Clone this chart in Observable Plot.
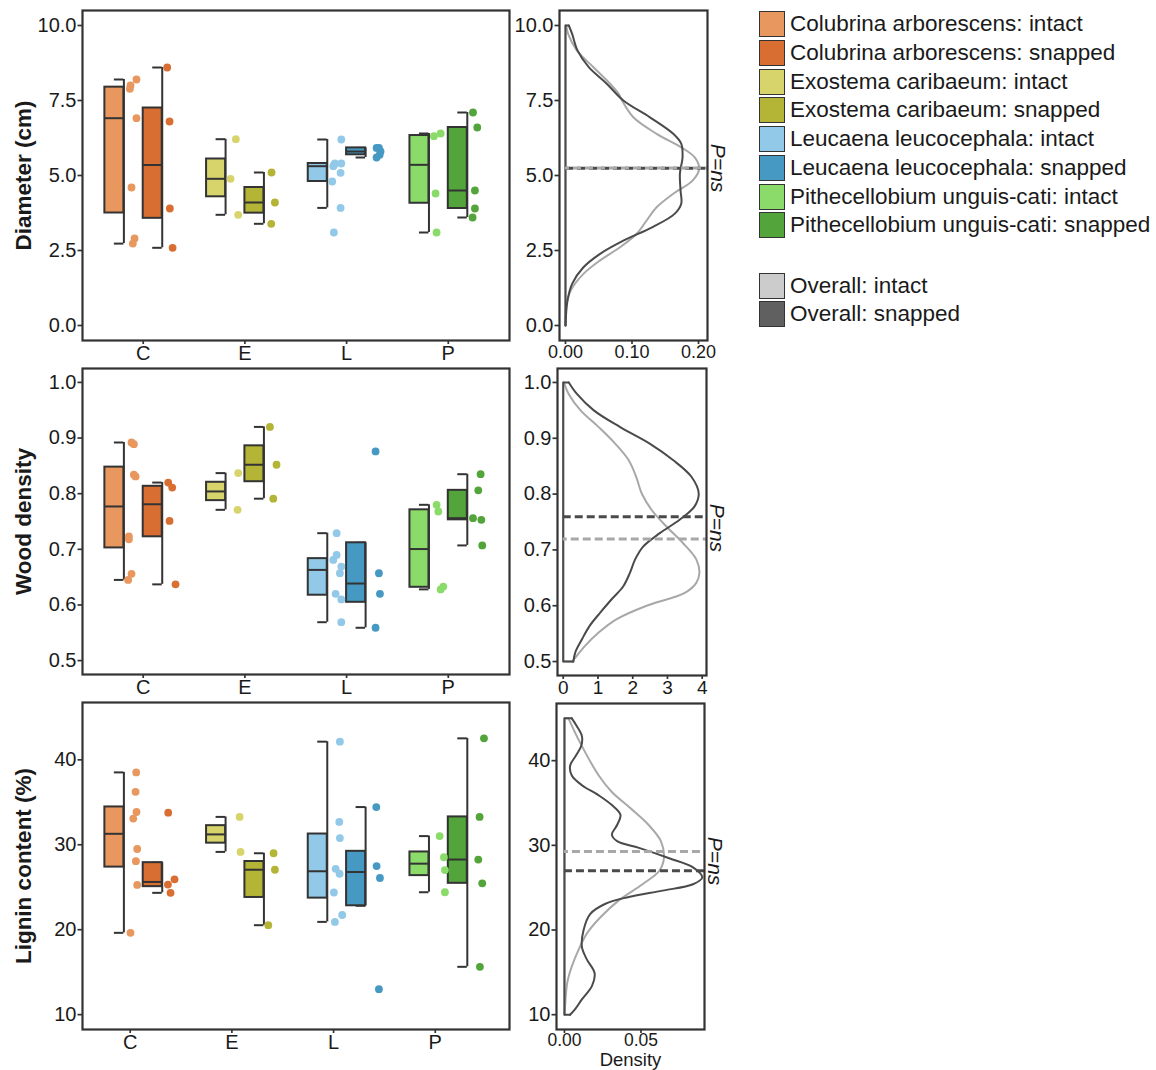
<!DOCTYPE html>
<html><head><meta charset="utf-8">
<script src="https://cdn.jsdelivr.net/npm/d3@7"></script>
<script src="https://cdn.jsdelivr.net/npm/@observablehq/plot@0.6"></script>
<style>
body{margin:0;background:#fff;font-family:"Liberation Sans",Arial,Helvetica,sans-serif;}
#root{position:relative;width:1156px;height:1070px;}
.lg-item{position:absolute;left:759px;height:26px;display:flex;align-items:center;}
.lg-sw{width:26px;height:26px;box-sizing:border-box;border:1.4px solid #333;}
.lg-tx{position:absolute;left:31px;font-size:22.5px;color:#1a1a1a;white-space:nowrap;line-height:26px;top:0;}
</style></head><body><div id="root"></div>
<script>
// ---------- categories / labels ----------
const speciesCodes = ["C", "E", "L", "P"];
const speciesNames = ["Colubrina arborescens", "Exostema caribaeum", "Leucaena leucocephala", "Pithecellobium unguis-cati"];
const conditions = ["intact", "snapped"];
const groupColors = ["#E8975F", "#D96E32", "#D8D46C", "#B4B436", "#92C9E8", "#4699C3", "#8ADB6A", "#53A43A"];
const overallColors = ["#CCCCCC", "#606060"];
const curveColors = ["#A8A8A8", "#4A4A4A"];

// ---------- raw values (group order: C-intact, C-snapped, E-intact, E-snapped, L-intact, L-snapped, P-intact, P-snapped) ----------
const diameter = [
  [8.2, 8.0, 7.89, 6.91, 4.6, 2.9, 2.73],
  [8.6, 6.8, 3.9, 2.59],
  [6.21, 4.89, 3.69],
  [5.1, 4.1, 3.39],
  [6.2, 5.4, 5.35, 5.31, 5.4, 5.09, 4.8, 3.92, 3.1],
  [5.92, 5.92, 5.8, 5.69, 5.6],
  [6.4, 6.31, 4.4, 3.1],
  [7.1, 6.6, 4.5, 3.9, 3.6]
];
const woodDensity = [
  [0.892, 0.889, 0.834, 0.831, 0.723, 0.718, 0.656, 0.645],
  [0.82, 0.811, 0.751, 0.637],
  [0.837, 0.771],
  [0.92, 0.852, 0.791],
  [0.729, 0.69, 0.681, 0.669, 0.657, 0.62, 0.61, 0.569],
  [0.876, 0.657, 0.62, 0.559],
  [0.78, 0.768, 0.633, 0.628],
  [0.835, 0.806, 0.756, 0.753, 0.707]
];
const lignin = [
  [38.52, 36.23, 33.86, 33.08, 29.5, 28.07, 25.27, 19.63],
  [33.78, 25.93, 25.31, 24.34],
  [33.28, 29.16],
  [29.0, 27.06, 20.53],
  [42.14, 32.69, 30.79, 27.17, 26.59, 24.38, 21.73, 20.92],
  [34.44, 27.49, 26.09, 13.0],
  [31.02, 28.53, 27.02, 24.41],
  [42.53, 33.28, 28.26, 25.46, 15.63]
];

// horizontal jitter of each point (category units)
const diameterJitter = [
  [-0.066, -0.125, -0.131, -0.066, -0.115, -0.085, -0.102],
  [0.236, 0.259, 0.262, 0.289],
  [-0.089, -0.141, -0.066],
  [0.262, 0.295, 0.259],
  [-0.052, -0.115, -0.123, -0.131, -0.052, -0.059, -0.141, -0.059, -0.125],
  [0.295, 0.318, 0.334, 0.325, 0.295],
  [-0.075, -0.141, -0.125, -0.115],
  [0.243, 0.285, 0.262, 0.262, 0.239]
];
const woodDensityJitter = [
  [-0.115, -0.092, -0.092, -0.075, -0.141, -0.141, -0.115, -0.148],
  [0.246, 0.285, 0.259, 0.318],
  [-0.066, -0.072],
  [0.246, 0.311, 0.279],
  [-0.098, -0.098, -0.131, -0.052, -0.066, -0.108, -0.052, -0.052],
  [0.285, 0.318, 0.328, 0.285],
  [-0.115, -0.098, -0.049, -0.075],
  [0.318, 0.295, 0.243, 0.325, 0.334]
];
const ligninJitter = [
  [-0.069, -0.075, -0.066, -0.098, -0.059, -0.072, -0.059, -0.125],
  [0.246, 0.308, 0.243, 0.269],
  [-0.052, -0.043],
  [0.282, 0.295, 0.230],
  [-0.066, -0.072, -0.066, -0.108, -0.069, -0.125, -0.043, -0.115],
  [0.292, 0.295, 0.328, 0.318],
  [-0.085, -0.043, -0.033, -0.033],
  [0.351, 0.308, 0.295, 0.334, 0.311]
];

// ---------- overall density curves ----------
const diameterDensIntactY = [10, 9.72, 9.17, 8.61, 8.06, 7.72, 7.5, 6.94, 6.39, 5.94, 5.61, 5.22, 4.83, 4.39, 3.94, 3.5, 3.06, 2.61, 2.17, 1.72, 1.17, 0.61, 0];
const diameterDensIntact  = [0.001, 0.004, 0.017, 0.042, 0.067, 0.08, 0.085, 0.102, 0.137, 0.174, 0.194, 0.201, 0.191, 0.162, 0.137, 0.122, 0.107, 0.082, 0.052, 0.027, 0.008, 0.001, 0];
const diameterDensSnappedY = [10, 9.72, 9.17, 8.61, 8.06, 7.5, 6.94, 6.39, 6.06, 5.61, 5.06, 4.5, 4.06, 3.72, 3.28, 2.83, 2.39, 1.94, 1.39, 0.83, 0];
const diameterDensSnapped  = [0.005, 0.010, 0.018, 0.035, 0.062, 0.087, 0.127, 0.162, 0.174, 0.176, 0.172, 0.173, 0.174, 0.164, 0.131, 0.087, 0.052, 0.027, 0.010, 0.003, 0];

const woodDensIntactY = [1.0, 0.979, 0.950, 0.920, 0.890, 0.861, 0.831, 0.801, 0.772, 0.742, 0.712, 0.683, 0.659, 0.641, 0.623, 0.600, 0.576, 0.552, 0.529, 0.511, 0.500];
const woodDensIntact  = [0.02, 0.16, 0.5, 1.02, 1.5, 1.88, 2.1, 2.26, 2.54, 2.97, 3.45, 3.83, 3.92, 3.83, 3.5, 2.4, 1.54, 1.02, 0.64, 0.4, 0.26];
const woodDensSnappedY = [1.0, 0.979, 0.950, 0.920, 0.890, 0.861, 0.831, 0.801, 0.778, 0.754, 0.730, 0.706, 0.683, 0.659, 0.635, 0.612, 0.588, 0.564, 0.540, 0.517, 0.500];
const woodDensSnapped  = [0.16, 0.4, 0.88, 1.64, 2.5, 3.16, 3.69, 3.9, 3.78, 3.35, 2.78, 2.3, 2.07, 1.92, 1.73, 1.4, 1.07, 0.76, 0.54, 0.35, 0.29];

const ligninDensIntactY = [45.0, 42.1, 38.25, 36.3, 34.4, 32.4, 30.5, 28.5, 27.0, 25.4, 23.5, 21.5, 19.6, 17.65, 15.7, 13.75, 11.0, 10.0];
const ligninDensIntact  = [0.0026, 0.0103, 0.0224, 0.031, 0.043, 0.055, 0.063, 0.065, 0.062, 0.051, 0.0355, 0.0235, 0.0147, 0.0092, 0.0048, 0.0018, 0.0004, 0];
const ligninDensSnappedY = [45.0, 44.1, 42.9, 41.75, 40.6, 39.4, 38.25, 37.1, 35.9, 34.75, 33.6, 32.4, 31.25, 30.5, 29.7, 28.5, 27.4, 26.2, 25.4, 24.65, 23.9, 23.1, 21.9, 20.0, 18.0, 16.5, 14.9, 13.4, 11.8, 10.65, 10.0];
const ligninDensSnapped  = [0.0048, 0.008, 0.0114, 0.011, 0.0075, 0.0037, 0.0048, 0.0114, 0.0224, 0.031, 0.0366, 0.0344, 0.031, 0.0344, 0.0487, 0.068, 0.084, 0.090, 0.084, 0.064, 0.042, 0.0268, 0.0169, 0.0125, 0.0114, 0.0147, 0.0197, 0.018, 0.0114, 0.007, 0.0037];

// ---------- axis ticks ----------
const diameterTicks = [0, 2.5, 5, 7.5, 10];
const woodTicks = [0.5, 0.6, 0.7, 0.8, 0.9, 1.0];
const ligninTicks = [10, 20, 30, 40];
const diameterDensTicks = [0, 0.1, 0.2];
const woodDensTicks = [0, 1, 2, 3, 4];
const ligninDensTicks = [0, 0.05];

// ---------- helpers ----------
const root = document.getElementById("root");
const FONT = "'Liberation Sans', Arial, Helvetica, sans-serif";
const INK = "#1a1a1a", FRAME = "#333333";

function boxStats(vals) {
  const s = vals.slice().sort(d3.ascending);
  const q1 = d3.quantile(s, 0.25), med = d3.quantile(s, 0.5), q3 = d3.quantile(s, 0.75);
  const iqr = q3 - q1;
  const lo = d3.min(s.filter(v => v >= q1 - 1.5 * iqr));
  const hi = d3.max(s.filter(v => v <= q3 + 1.5 * iqr));
  return {q1, med, q3, lo: Math.min(lo, q1), hi: Math.max(hi, q3)};
}

function place(svg, left, top) {
  svg.style.position = "absolute";
  svg.style.left = left + "px";
  svg.style.top = top + "px";
  root.appendChild(svg);
}

const baseStyle = {background: "transparent", overflow: "visible", fontFamily: FONT, fontSize: "20px", color: INK};

function leftPanel(c) {
  const boxes = [], pts = [];
  c.vals.forEach((arr, g) => {
    const si = Math.floor(g / 2), cond = g % 2;
    const st = boxStats(arr);
    const x1 = si + (cond ? 0.0 : -0.377), x2 = si + (cond ? 0.187 : -0.190);
    boxes.push({...st, x1, x2, xc: (x1 + x2) / 2, color: groupColors[g]});
    arr.forEach((v, i) => pts.push({x: si + c.jit[g][i], y: v, color: groupColors[g]}));
  });
  const ticks = speciesCodes.map((d, i) => i + c.tickShift);
  const svg = Plot.plot({
    width: 520, height: c.svgBottom - c.svgTop,
    marginLeft: 82, marginRight: 11, marginTop: c.top - c.svgTop, marginBottom: c.svgBottom - c.bottom,
    x: {domain: [-0.597, 3.602]},
    y: {domain: c.yDomain},
    color: {type: "identity"},
    style: baseStyle,
    marks: [
      Plot.ruleX(boxes, {x: "x2", y1: "lo", y2: "hi", stroke: FRAME, strokeWidth: 2}),
      Plot.ruleY(boxes, {y: "lo", x1: "xc", x2: "x2", stroke: FRAME, strokeWidth: 2}),
      Plot.ruleY(boxes, {y: "hi", x1: "xc", x2: "x2", stroke: FRAME, strokeWidth: 2}),
      Plot.rect(boxes, {x1: "x1", x2: "x2", y1: "q1", y2: "q3", fill: "color", stroke: FRAME, strokeWidth: 2}),
      Plot.ruleY(boxes, {y: "med", x1: "x1", x2: "x2", stroke: FRAME, strokeWidth: 2}),
      Plot.dot(pts, {x: "x", y: "y", r: 3.9, fill: "color", stroke: "none"}),
      Plot.frame({stroke: FRAME, strokeWidth: 2.2}),
      Plot.axisY(c.yTicks, {tickFormat: c.yFmt, tickSize: 4.5, tickPadding: 1.5, stroke: FRAME, strokeWidth: 1.7, fill: INK, fontSize: 20, label: null}),
      Plot.axisX(ticks, {tickFormat: d => speciesCodes[Math.round(d - c.tickShift)], tickSize: 4, tickPadding: 1, stroke: FRAME, strokeWidth: 1.7, fill: INK, fontSize: 20, label: null}),
      Plot.text([c.title], {frameAnchor: "left", textAnchor: "middle", lineAnchor: "middle", rotate: -90, dx: -58.5, fontSize: 22.5, fontWeight: "bold", fill: INK})
    ]
  });
  place(svg, 0, c.svgTop);
}

function densPanel(c) {
  const mk = (ys, ds) => ys.map((v, i) => ({v, d: ds[i]}));
  const closing = (pts, yr) => {
    const top = pts.find(p => p.v === yr[1]), bot = pts.find(p => p.v === yr[0]);
    return [{d: top.d, v: yr[1]}, {d: 0, v: yr[1]}, {d: 0, v: yr[0]}, {d: bot.d, v: yr[0]}];
  };
  const light = mk(c.iy, c.id), dark = mk(c.sy, c.sd);
  const meanIntact = d3.mean(c.vals.filter((a, g) => g % 2 === 0).flat());
  const meanSnapped = d3.mean(c.vals.filter((a, g) => g % 2 === 1).flat());
  const svg = Plot.plot({
    width: 240, height: c.svgBottom - c.svgTop,
    marginLeft: c.fl - 500, marginRight: 740 - c.fr, marginTop: c.top - c.svgTop, marginBottom: c.svgBottom - c.bottom,
    x: {domain: c.xDomain},
    y: {domain: c.yDomain},
    style: baseStyle,
    marks: [
      Plot.line(light, {x: "d", y: "v", stroke: curveColors[0], strokeWidth: 2, curve: "catmull-rom"}),
      Plot.line(closing(light, c.yRange), {x: "d", y: "v", stroke: curveColors[0], strokeWidth: 2}),
      Plot.line(dark, {x: "d", y: "v", stroke: curveColors[1], strokeWidth: 2, curve: "catmull-rom"}),
      Plot.line(closing(dark, c.yRange), {x: "d", y: "v", stroke: curveColors[1], strokeWidth: 2}),
      Plot.ruleY([meanSnapped], {y: d => d, x1: 0, x2: c.xDomain[1], stroke: curveColors[1], strokeWidth: 3, strokeDasharray: "8,4"}),
      Plot.ruleY([meanIntact], {y: d => d, x1: 0, x2: c.xDomain[1], stroke: curveColors[0], strokeWidth: 3, strokeDasharray: "8,4", strokeDashoffset: 4}),
      Plot.frame({stroke: FRAME, strokeWidth: 2.2}),
      Plot.axisY(c.yTicks, {tickFormat: c.yFmt, tickSize: 4.5, tickPadding: 1.5, stroke: FRAME, strokeWidth: 1.7, fill: INK, fontSize: 20, label: null}),
      Plot.axisX(c.xTicks, {tickFormat: c.xFmt, tickSize: 4, tickPadding: c.xPad, stroke: FRAME, strokeWidth: 1.7, fill: INK, fontSize: c.xFont, label: null}),
      Plot.text([(meanIntact + meanSnapped) / 2], {y: d => d, frameAnchor: "right", textAnchor: "middle", lineAnchor: "middle", text: () => "P=ns", rotate: 90, dx: 10.5, fontSize: 21, fontStyle: "italic", fill: INK}),
      ...(c.xLabel ? [Plot.text([c.xLabel], {frameAnchor: "bottom", lineAnchor: "middle", dy: 31, fontSize: 18.5, fill: INK})] : [])
    ]
  });
  place(svg, 500, c.svgTop);
}

// ---------- rows ----------
const f1 = d3.format(".1f"), f2 = d3.format(".2f"), f0 = d3.format("d");

leftPanel({vals: diameter, jit: diameterJitter, yDomain: [-0.5, 10.5], yTicks: diameterTicks, yFmt: f1,
  title: "Diameter (cm)", tickShift: 0, top: 10, bottom: 340, svgTop: 0, svgBottom: 365});
densPanel({vals: diameter, iy: diameterDensIntactY, id: diameterDensIntact, sy: diameterDensSnappedY, sd: diameterDensSnapped,
  yRange: [0, 10], yDomain: [-0.5, 10.5], yTicks: diameterTicks, yFmt: f1,
  xDomain: [-0.009, 0.2135], xTicks: diameterDensTicks, xFmt: f2, xPad: 1, xFont: 18,
  fl: 559, fr: 707, top: 10, bottom: 340, svgTop: 0, svgBottom: 365});

leftPanel({vals: woodDensity, jit: woodDensityJitter, yDomain: [0.475, 1.025], yTicks: woodTicks, yFmt: f1,
  title: "Wood density", tickShift: 0, top: 368, bottom: 674, svgTop: 365, svgBottom: 699});
densPanel({vals: woodDensity, iy: woodDensIntactY, id: woodDensIntact, sy: woodDensSnappedY, sd: woodDensSnapped,
  yRange: [0.5, 1.0], yDomain: [0.475, 1.025], yTicks: woodTicks, yFmt: f1,
  xDomain: [-0.165, 4.124], xTicks: woodDensTicks, xFmt: f0, xPad: 1, xFont: 19,
  fl: 557, fr: 706, top: 368, bottom: 675, svgTop: 365, svgBottom: 699});

leftPanel({vals: lignin, jit: ligninJitter, yDomain: [8.25, 46.75], yTicks: ligninTicks, yFmt: f0,
  title: "Lignin content (%)", tickShift: -0.128, top: 702, bottom: 1029, svgTop: 699, svgBottom: 1070});
densPanel({vals: lignin, iy: ligninDensIntactY, id: ligninDensIntact, sy: ligninDensSnappedY, sd: ligninDensSnapped,
  yRange: [10, 45], yDomain: [8.25, 46.75], yTicks: ligninTicks, yFmt: f0,
  xDomain: [-0.0052, 0.0915], xTicks: ligninDensTicks, xFmt: f2, xPad: 0, xFont: 17.5, xLabel: "Density",
  fl: 556, fr: 704, top: 703, bottom: 1029, svgTop: 699, svgBottom: 1070});

// ---------- legend ----------
const legendItems = [];
speciesNames.forEach((s, i) => conditions.forEach((c, j) => legendItems.push({label: `${s}: ${c}`, color: groupColors[i * 2 + j]})));
const legendTops = legendItems.map((d, i) => 11 + i * 28.75);
legendItems.push({label: "Overall: intact", color: overallColors[0]}, {label: "Overall: snapped", color: overallColors[1]});
legendTops.push(272.7, 301.4);
legendItems.forEach((d, i) => {
  const item = document.createElement("div");
  item.className = "lg-item";
  item.style.top = legendTops[i] + "px";
  const sw = document.createElement("div");
  sw.className = "lg-sw";
  sw.style.background = d.color;
  const tx = document.createElement("div");
  tx.className = "lg-tx";
  tx.textContent = d.label;
  item.appendChild(sw); item.appendChild(tx);
  root.appendChild(item);
});
</script></body></html>
